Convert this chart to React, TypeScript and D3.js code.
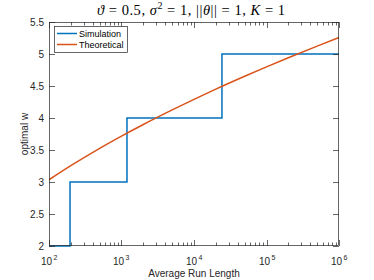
import React from "react";
import * as d3 from "d3";

const simX = [100, 195, 1190, 24300, 1000000];
const simW = [2, 3, 4, 5, 5];
const theoX = [100, 200, 500, 1000, 2000, 5000, 10000, 20000, 50000, 100000, 200000, 500000, 1000000];
const theoW = [3.035, 3.255, 3.526, 3.717, 3.899, 4.127, 4.292, 4.451, 4.652, 4.799, 4.941, 5.123, 5.257];
const yTicks = [2, 2.5, 3, 3.5, 4, 4.5, 5, 5.5];
const xExps = [2, 3, 4, 5, 6];
const seriesNames = ["Simulation", "Theoretical"];
const colors = ["#0072BD", "#D95319"];

export default function App() {
  const W = 374, H = 280;
  const L = 49, R = 339, T = 22, B = 246;
  const x = d3.scaleLog().domain([1e2, 1e6]).range([L, R]);
  const y = d3.scaleLinear().domain([2, 5.5]).range([B, T]);
  const stepLine = d3.line<number>().x((d, i) => x(simX[i])).y((d) => y(d)).curve(d3.curveStepAfter);
  const theoLine = d3.line<number>().x((d, i) => x(theoX[i])).y((d) => y(d)).curve(d3.curveMonotoneX);
  const minor: number[] = [];
  for (let e = 2; e < 6; e++) for (let m = 2; m <= 9; m++) minor.push(m * Math.pow(10, e));
  const axisColor = "#262626";
  const font = "'Liberation Sans', Arial, sans-serif";
  return (
    <svg width={W} height={H} style={{ position: "absolute", left: 0, top: 0 }} fontFamily={font}>
      <rect x={0} y={0} width={W} height={H} fill="#fff" />
      <defs>
        <clipPath id="clip"><rect x={L} y={T - 1} width={R - L + 1} height={B - T + 2} /></clipPath>
      </defs>
      <g clipPath="url(#clip)">
        <path d={stepLine(simW) || ""} fill="none" stroke={colors[0]} strokeWidth={1.5} />
        <path d={theoLine(theoW) || ""} fill="none" stroke={colors[1]} strokeWidth={1.5} />
      </g>
      {/* box */}
      <rect x={L + 0.5} y={T + 0.5} width={R - L - 1} height={B - T - 1} fill="none" stroke={axisColor} strokeWidth={0.7} />
      {/* y ticks */}
      {yTicks.map((t) => (
        <g key={"y" + t}>
          <line x1={L} x2={L + 6} y1={Math.round(y(t)) + 0.5} y2={Math.round(y(t)) + 0.5} stroke={axisColor} strokeWidth={0.7} />
          <line x1={R - 6} x2={R} y1={Math.round(y(t)) + 0.5} y2={Math.round(y(t)) + 0.5} stroke={axisColor} strokeWidth={0.7} />
          <text x={L - 5} y={y(t) + 3.5} fontSize={10} textAnchor="end" fill={axisColor}>{t}</text>
        </g>
      ))}
      {/* x major ticks */}
      {xExps.map((e) => {
        const xv = Math.round(x(Math.pow(10, e))) + 0.5;
        return (
          <g key={"x" + e}>
            <line x1={xv} x2={xv} y1={B} y2={B - 6} stroke={axisColor} strokeWidth={0.7} />
            <line x1={xv} x2={xv} y1={T} y2={T + 6} stroke={axisColor} strokeWidth={0.7} />
            <text x={xv - 3} y={265} fontSize={10} textAnchor="middle" fill={axisColor}>10</text>
            <text x={xv + 6} y={260} fontSize={7} textAnchor="middle" fill={axisColor}>{e}</text>
          </g>
        );
      })}
      {minor.map((m) => {
        const xv = Math.round(x(m)) + 0.5;
        return (
          <g key={"m" + m}>
            <line x1={xv} x2={xv} y1={B} y2={B - 3.5} stroke={axisColor} strokeWidth={0.7} />
            <line x1={xv} x2={xv} y1={T} y2={T + 3.5} stroke={axisColor} strokeWidth={0.7} />
          </g>
        );
      })}
      {/* labels */}
      <text x={(L + R) / 2} y={277} fontSize={10} textAnchor="middle" fill={axisColor}>Average Run Length</text>
      <text transform={`translate(28,${(T + B) / 2}) rotate(-90)`} fontSize={10} textAnchor="middle" fill={axisColor}>optimal w</text>
      {/* title */}
      <text x={97} y={15} fontSize={14.5} textLength={188} lengthAdjust="spacing" fill="#000" fontFamily="'Liberation Serif', 'DejaVu Serif', serif">
        <tspan fontStyle="italic">ϑ</tspan> = 0.5, <tspan fontStyle="italic">σ</tspan>
        <tspan dy={-6} fontSize={10}>2</tspan>
        <tspan dy={6}> = 1, ||</tspan><tspan fontStyle="italic">θ</tspan>|| = 1, <tspan fontStyle="italic">K</tspan> = 1
      </text>
      {/* legend */}
      <rect x={54.5} y={26.5} width={73} height={26} fill="#fff" stroke={axisColor} strokeWidth={0.7} />
      {seriesNames.map((n, i) => (
        <g key={n}>
          <line x1={57} x2={77} y1={33.5 + i * 11} y2={33.5 + i * 11} stroke={colors[i]} strokeWidth={1.5} />
          <text x={79} y={36.5 + i * 11} fontSize={9} fill="#000">{n}</text>
        </g>
      ))}
    </svg>
  );
}
